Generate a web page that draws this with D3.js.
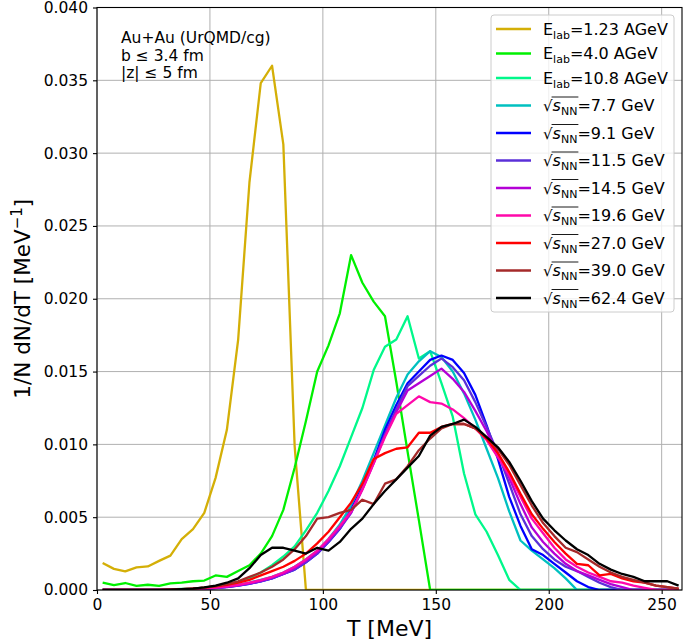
<!DOCTYPE html>
<html><head><meta charset="utf-8">
<script src="https://cdn.jsdelivr.net/npm/d3@7"></script>
<style>body{margin:0;background:#fff}svg{font-family:"DejaVu Sans",sans-serif}</style>
</head><body><svg id="c" width="685" height="644"></svg>
<script>
// temperature bin centres [MeV]
const T = [2.5,7.5,12.5,17.5,22.5,27.5,32.5,37.5,42.5,47.5,52.5,57.5,62.5,67.5,72.5,77.5,82.5,87.5,92.5,97.5,102.5,107.5,112.5,117.5,122.5,127.5,132.5,137.5,142.5,147.5,152.5,157.5,162.5,167.5,172.5,177.5,182.5,187.5,192.5,197.5,202.5,207.5,212.5,217.5,222.5,227.5,232.5,237.5,242.5,247.5,252.5,257.5];

const e123 = [0.00185,0.00145,0.00128,0.00155,0.00162,0.0020,0.00236,0.0035,0.00418,0.0053,0.0077,0.0110,0.0172,0.0280,0.0348,0.0360,0.0306,0.0099,0,0,0,0,0,0,0,0,0,0,0,0,0,0,0,0,0,0,0,0,0,0,0,0,0,0,0,0,0,0,0,0,0,0];
const e40 = [0.0005,0.00033,0.00048,0.00028,0.00036,0.00028,0.00045,0.0005,0.0006,0.00065,0.0010,0.0009,0.0013,0.0017,0.0025,0.0037,0.0055,0.0084,0.0116,0.0150,0.0168,0.0190,0.0230,0.0211,0.0198,0.0188,0.0143,0.0095,0.0048,0,0,0,0,0,0,0,0,0,0,0,0,0,0,0,0,0,0,0,0,0,0,0];
const e108 = [0,0,0,0,0,0.00002,0.00004,0.00007,0.0001,0.00015,0.0002,0.0003,0.0005,0.0008,0.0012,0.0017,0.0023,0.0030,0.0041,0.0053,0.0068,0.0085,0.0105,0.0125,0.0151,0.0167,0.0172,0.0188,0.0159,0.0164,0.0142,0.0119,0.0080,0.0052,0.0040,0.0024,0.0007,0,0,0,0,0,0,0,0,0,0,0,0,0,0,0];
const s77 = [0,0,0,0,0,0,0.00002,0.00004,0.00007,0.00011,0.00017,0.00025,0.00035,0.0005,0.0007,0.0009,0.0012,0.0016,0.0021,0.0027,0.0035,0.0045,0.0058,0.0075,0.0094,0.0113,0.0132,0.0148,0.0157,0.0164,0.0160,0.0150,0.0135,0.0117,0.0097,0.0077,0.0054,0.0034,0.0027,0.0021,0.0015,0.0008,0,0,0,0,0,0,0,0,0,0];
const s91 = [0,0,0,0,0,0,0.00001,0.00003,0.00005,0.00008,0.00013,0.0002,0.0003,0.00042,0.0006,0.0008,0.0011,0.0014,0.0019,0.0025,0.0033,0.0042,0.0055,0.0071,0.0089,0.0110,0.0127,0.0142,0.0150,0.0158,0.0161,0.0158,0.0149,0.0134,0.0113,0.0090,0.0064,0.0044,0.0028,0.0024,0.0018,0.0012,0.0006,0.0002,0,0,0,0,0,0,0,0];
const s115 = [0,0,0,0,0,0,0.00001,0.00003,0.00005,0.00009,0.00014,0.00021,0.0003,0.00043,0.0006,0.0008,0.0011,0.0014,0.0019,0.0025,0.0033,0.0042,0.0053,0.0070,0.0088,0.0107,0.0124,0.0140,0.0147,0.0154,0.0159,0.0153,0.0144,0.0129,0.0112,0.0094,0.0073,0.0052,0.0037,0.0028,0.0021,0.0016,0.0013,0.0009,0.0005,0.0002,0,0,0,0,0,0];
const s145 = [0,0,0,0,0,0,0.00001,0.00003,0.00006,0.0001,0.00015,0.00022,0.00032,0.00045,0.00062,0.00085,0.0011,0.0015,0.0020,0.0026,0.0034,0.0043,0.0053,0.0069,0.0087,0.0106,0.0122,0.0137,0.0142,0.0147,0.0152,0.0145,0.0136,0.0123,0.0109,0.0093,0.0077,0.0059,0.0043,0.0033,0.0025,0.0018,0.0013,0.0010,0.0007,0.0004,0.0002,0,0,0,0,0];
const s196 = [0,0,0,0,0,0,0.00002,0.00004,0.00007,0.00011,0.00017,0.00025,0.00035,0.0005,0.00068,0.0009,0.0012,0.0016,0.0021,0.0027,0.0035,0.0044,0.0054,0.0069,0.0087,0.0105,0.0121,0.0127,0.0133,0.0129,0.0128,0.0124,0.0118,0.0111,0.0103,0.0091,0.0079,0.0064,0.0049,0.0039,0.0029,0.0021,0.0016,0.0012,0.0009,0.0006,0.0005,0.0003,0.00015,0,0,0];
const s270 = [0,0,0,0,0,0.00001,0.00003,0.00005,0.0001,0.00016,0.00025,0.00035,0.0005,0.0007,0.0010,0.0013,0.0016,0.0020,0.0025,0.0032,0.0040,0.0050,0.0060,0.0073,0.0090,0.0094,0.0097,0.0098,0.0108,0.0108,0.0112,0.0114,0.0114,0.0111,0.0104,0.0094,0.0081,0.0066,0.0052,0.0042,0.0033,0.0025,0.0018,0.0017,0.0010,0.0011,0.0008,0.0006,0.0005,0.0003,0.0002,0.0001];
const s390 = [0,0,0,0,0,0.00001,0.00003,0.00006,0.0001,0.00017,0.00027,0.0004,0.0006,0.0009,0.0012,0.0016,0.0021,0.0028,0.0037,0.0049,0.0050,0.0053,0.0055,0.0062,0.0059,0.0073,0.0076,0.0085,0.0096,0.0104,0.0111,0.0114,0.0114,0.0111,0.0105,0.0097,0.0086,0.0072,0.0058,0.0046,0.0037,0.0029,0.0026,0.0021,0.0016,0.0012,0.0009,0.0007,0.0005,0.0003,0.0002,0.0001];
const s624 = [0,0,0,0,0,0.00001,0.00003,0.00006,0.0001,0.00018,0.0003,0.0005,0.0008,0.0015,0.0024,0.0029,0.0029,0.0027,0.0025,0.0029,0.0027,0.0033,0.0042,0.0049,0.0059,0.0068,0.0076,0.0084,0.0092,0.0106,0.0112,0.0114,0.0117,0.0112,0.0105,0.0098,0.0088,0.0075,0.0061,0.0049,0.0041,0.0034,0.0028,0.0024,0.0018,0.0014,0.0011,0.0009,0.0006,0.0006,0.0006,0.0003];

const seriesValues = [e123,e40,e108,s77,s91,s115,s145,s196,s270,s390,s624];
const seriesKind = ["elab","elab","elab","s","s","s","s","s","s","s","s"];
const seriesEnergy = ["1.23","4.0","10.8","7.7","9.1","11.5","14.5","19.6","27.0","39.0","62.4"];
const seriesUnit = ["AGeV","AGeV","AGeV","GeV","GeV","GeV","GeV","GeV","GeV","GeV","GeV"];
const seriesColor = ["#d4af07","#00f000","#00f88a","#00c0c0","#0000ff","#5b30d8","#b400d6","#ff08aa","#ff0000","#a52a2a","#000000"];
const xTicks = [0,50,100,150,200,250];
const yTicks = [0,0.005,0.010,0.015,0.020,0.025,0.030,0.035,0.040];
const annotation = ["Au+Au (UrQMD/cg)","b ≤ 3.4 fm","|z| ≤ 5 fm"];

const L=97, R=682, TOP=7.5, B=590;
const x = d3.scaleLinear().domain([0,259]).range([L,R]);
const y = d3.scaleLinear().domain([0,0.040]).range([B,TOP]);
const svg = d3.select("#c");

svg.append("defs").append("clipPath").attr("id","clip")
  .append("rect").attr("x",L).attr("y",TOP).attr("width",R-L).attr("height",B-TOP);

// grid
const grid = svg.append("g").attr("stroke","#b0b0b0").attr("stroke-width",1);
grid.selectAll(".gx").data(xTicks).join("line")
  .attr("x1",d=>x(d)).attr("x2",d=>x(d)).attr("y1",TOP).attr("y2",B);
grid.selectAll(".gy").data(yTicks).join("line")
  .attr("y1",d=>y(d)).attr("y2",d=>y(d)).attr("x1",L).attr("x2",R);

// lines
const line = d3.line().x((d,i)=>x(T[i])).y(d=>y(d));
const lg = svg.append("g").attr("clip-path","url(#clip)");
seriesValues.forEach((vals,k)=>{
  lg.append("path").attr("d",line(vals)).attr("fill","none")
    .attr("stroke",seriesColor[k]).attr("stroke-width",2.3).attr("stroke-linejoin","round");
});

// axes
const xa = svg.append("g").attr("transform",`translate(0,${B})`)
  .call(d3.axisBottom(x).tickValues(xTicks).tickFormat(d3.format("d")).tickSize(4).tickPadding(5));
const ya = svg.append("g").attr("transform",`translate(${L},0)`)
  .call(d3.axisLeft(y).tickValues(yTicks).tickFormat(d3.format(".3f")).tickSize(4).tickPadding(5));
[xa,ya].forEach(a=>{
  a.select(".domain").remove();
  a.selectAll("text").attr("font-size",15.5).attr("font-family","DejaVu Sans").attr("fill","#000");
  a.selectAll("line").attr("stroke","#000").attr("stroke-width",1.1);
});
svg.append("rect").attr("x",L).attr("y",TOP).attr("width",R-L).attr("height",B-TOP)
  .attr("fill","none").attr("stroke","#000").attr("stroke-width",1.1);

// axis labels
svg.append("text").attr("x",(L+R)/2).attr("y",636).attr("text-anchor","middle")
  .attr("font-size",22).text("T [MeV]");
const yl = svg.append("text").attr("transform",`translate(30,${(TOP+B)/2}) rotate(-90)`)
  .attr("text-anchor","middle").attr("font-size",21.5);
yl.append("tspan").text("1/N dN/dT [MeV");
yl.append("tspan").attr("font-size",15).attr("dy",-8).text("−1");
yl.append("tspan").attr("dy",8).text("]");

// annotation
annotation.forEach((t,i)=>{
  svg.append("text").attr("x",121).attr("y",43+i*17.5).attr("font-size",15.5).text(t);
});

// legend
const legX=491, legY=15, legW=183;
const rowY = [29,53.5,78,105.5,133,160.5,188,215.5,243,270.5,298];
const legH = 297;
const leg = svg.append("g");
leg.append("rect").attr("x",legX).attr("y",legY).attr("width",legW).attr("height",legH)
  .attr("rx",3).attr("fill","#fff").attr("fill-opacity",0.8).attr("stroke","#cccccc").attr("stroke-width",1);
seriesValues.forEach((v,k)=>{
  const yy=rowY[k];
  leg.append("line").attr("x1",496).attr("x2",531).attr("y1",yy).attr("y2",yy)
    .attr("stroke",seriesColor[k]).attr("stroke-width",2.3);
  const fs=16;
  const t = leg.append("text").attr("x",543).attr("y",yy+5.5).attr("font-size",fs);
  if(seriesKind[k]==="elab"){
    t.append("tspan").text("E");
    t.append("tspan").attr("font-size",11).attr("dy",4).text("lab");
    t.append("tspan").attr("dy",-4).text("="+seriesEnergy[k]+" "+seriesUnit[k]);
  } else {
    t.append("tspan").attr("font-size",15).text("√");
    t.append("tspan").attr("font-style","italic").text("s");
    t.append("tspan").attr("font-size",11).attr("dy",4).text("NN");
    t.append("tspan").attr("dy",-4).text("="+seriesEnergy[k]+" "+seriesUnit[k]);
    const n=t.node();
    const x0=n.getStartPositionOfChar(1).x, x1=n.getEndPositionOfChar(3).x;
    leg.append("line").attr("x1",x0-1).attr("x2",x1+1).attr("y1",yy-8.5).attr("y2",yy-8.5)
      .attr("stroke","#000").attr("stroke-width",0.9);
  }
});
</script></body></html>
